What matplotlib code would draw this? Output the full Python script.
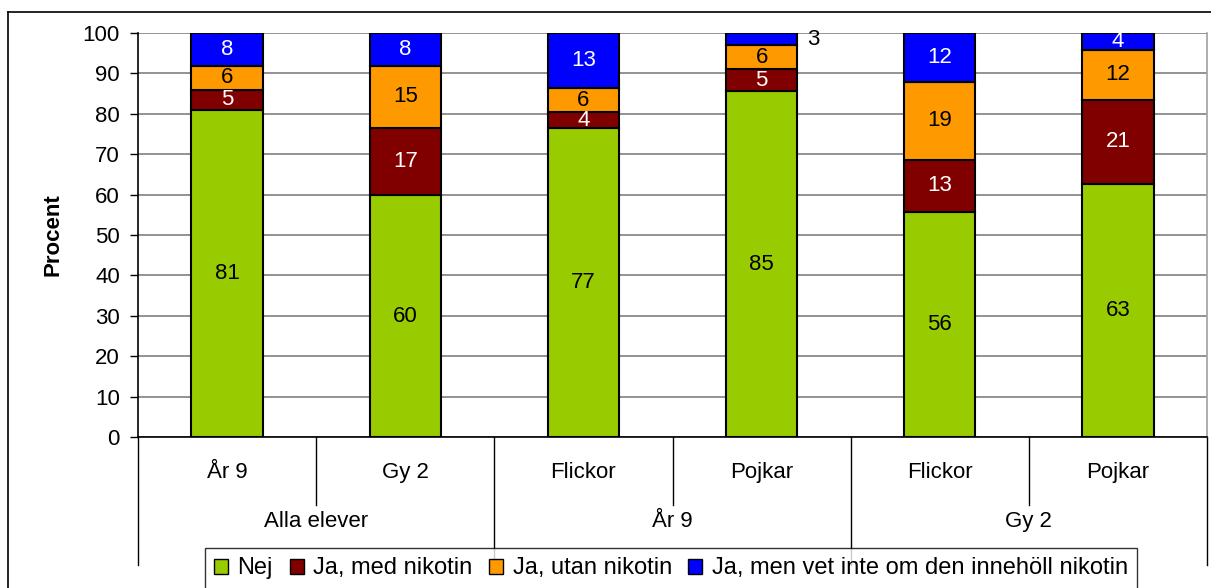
import matplotlib.pyplot as plt
from matplotlib.lines import Line2D
import numpy as np

plt.rcParams['font.family'] = ['Liberation Sans', 'DejaVu Sans']

sub_labels = ["År 9", "Gy 2", "Flickor", "Pojkar", "Flickor", "Pojkar"]
group_labels = ["Alla elever", "År 9", "Gy 2"]
series_names = ["Nej", "Ja, med nikotin", "Ja, utan nikotin",
                "Ja, men vet inte om den innehöll nikotin"]

# segment heights
nej = [81.0, 59.8, 76.5, 85.6, 55.7, 62.6]
med_nikotin = [5.0, 16.8, 3.9, 5.4, 12.9, 20.9]
utan_nikotin = [5.8, 15.2, 6.0, 6.0, 19.3, 12.4]
vet_inte = [8.2, 8.2, 13.6, 3.0, 12.1, 4.1]

# printed value labels
nej_lbl = [81, 60, 77, 85, 56, 63]
med_lbl = [5, 17, 4, 5, 13, 21]
utan_lbl = [6, 15, 6, 6, 19, 12]
vet_lbl = [8, 8, 13, 3, 12, 4]

colors = ["#99CC00", "#800000", "#FF9900", "#0000FF"]
text_colors = ["black", "white", "black", "white"]
FS = 16


def main():
    fig = plt.figure(figsize=(12.11, 5.88), dpi=100)
    ax = fig.add_axes([138 / 1211, 151 / 588, 1069 / 1211, 404 / 588])

    # outer chart frame (only top and left visible)
    fig.add_artist(Line2D([8 / 1211, 1.0], [1 - 12 / 588] * 2, color="black", lw=1.2))
    fig.add_artist(Line2D([8 / 1211] * 2, [0, 1 - 12 / 588], color="black", lw=1.2))

    x = np.arange(len(sub_labels))
    series = [nej, med_nikotin, utan_nikotin, vet_inte]
    labels = [nej_lbl, med_lbl, utan_lbl, vet_lbl]
    bottom = np.zeros(len(x))
    for vals, lbls, col, tcol, name in zip(series, labels, colors, text_colors, series_names):
        vals = np.array(vals, dtype=float)
        ax.bar(x, vals, 0.4, bottom=bottom, color=col, edgecolor="black",
               linewidth=1.5, label=name, zorder=3)
        for xi, v, b, lb in zip(x, vals, bottom, lbls):
            if v < 3.5:
                ax.text(xi + 0.255, b + v / 2, str(lb), ha="left", va="center",
                        fontsize=FS, color="black", zorder=4)
            else:
                ax.text(xi, b + v / 2, str(lb), ha="center", va="center",
                        fontsize=FS, color=tcol, zorder=4)
        bottom += vals

    ax.set_xlim(-0.5, 5.5)
    ax.set_ylim(0, 100)
    ax.set_yticks(range(0, 101, 10))
    ax.tick_params(axis="y", labelsize=FS, length=6, width=1, direction="out", pad=7)
    ax.set_xticks([])
    ax.yaxis.grid(True, color="#808080", linewidth=1.2, zorder=0)
    ax.spines["left"].set_linewidth(1.2)
    ax.spines["bottom"].set_linewidth(1.2)
    ax.spines["top"].set_visible(False)
    ax.spines["right"].set_color("#A0A0A0")
    ax.spines["right"].set_linewidth(1.2)
    ax.set_ylabel("Procent", fontsize=FS, fontweight="bold", labelpad=14)

    # two-level category axis
    trans = ax.get_xaxis_transform()
    for i, lab in enumerate(sub_labels):
        ax.text(i, -0.089, lab, transform=trans, ha="center", va="center", fontsize=FS)
    for g, lab in enumerate(group_labels):
        ax.text(2 * g + 0.5, -0.21, lab, transform=trans, ha="center", va="center", fontsize=FS)
    for s in np.arange(-0.5, 6, 1.0):
        long_line = (s + 0.5) % 2 == 0
        y_end = -0.317 if long_line else -0.168
        ax.plot([s, s], [0, y_end], transform=trans, color="black", lw=1,
                clip_on=False)

    leg = fig.legend(loc="upper center", bbox_to_anchor=(671 / 1211, 1 - 548 / 588), ncol=4,
                     fontsize=17, frameon=True, fancybox=False, edgecolor="black",
                     handlelength=0.6, handleheight=0.6, handletextpad=0.4,
                     columnspacing=0.7, borderpad=0.4, borderaxespad=0)
    leg.get_frame().set_linewidth(1.0)
    for h in leg.legend_handles:
        h.set_edgecolor("black")
        h.set_linewidth(1.0)

    fig.savefig("out.png", dpi=100)


if __name__ == "__main__":
    main()
